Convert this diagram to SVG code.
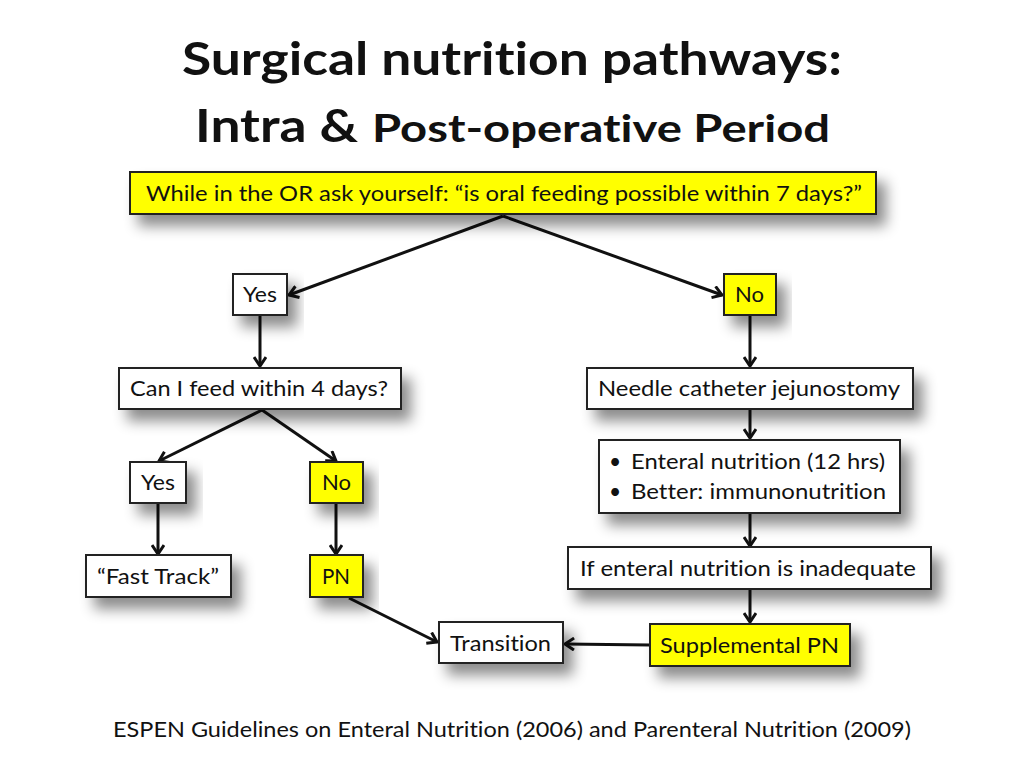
<svg xmlns="http://www.w3.org/2000/svg" width="1024" height="768" viewBox="0 0 1024 768">
<style>
text{font-family:Lato,"Open Sans","Liberation Sans",sans-serif;fill:#111;font-variant-ligatures:none}
.t{font-weight:bold;font-size:45px}
.n{font-size:21px}
.b{stroke:#222;stroke-width:2}
.w{fill:#fff}
.y{fill:#ffff00}
.c{stroke:#111;stroke-width:3;fill:none;marker-end:url(#ah)}
</style>
<defs>
<filter id="sh" x="-20%" y="-40%" width="150%" height="230%">
<feDropShadow dx="9" dy="11" stdDeviation="7" flood-color="#000" flood-opacity="0.45"/>
</filter>
<marker id="ah" markerWidth="14" markerHeight="14" refX="11" refY="7" orient="auto" markerUnits="userSpaceOnUse">
<polyline points="2,1 11,7 2,13" fill="none" stroke="#111" stroke-width="3"/>
</marker>
</defs>
<rect width="1024" height="768" fill="#fff"/>
<g id="title">
<text class="t" x="182" y="75" textLength="660" lengthAdjust="spacingAndGlyphs">Surgical nutrition pathways:</text>
<text class="t" x="195" y="142" textLength="163" lengthAdjust="spacingAndGlyphs">Intra &amp;</text>
<text x="372" y="142" font-weight="bold" font-size="38" textLength="458" lengthAdjust="spacingAndGlyphs">Post-operative Period</text>
</g>
<g id="connectors">
<line class="c" x1="503" y1="216" x2="289" y2="295"/>
<line class="c" x1="503" y1="216" x2="722" y2="295"/>
<line class="c" x1="260" y1="316" x2="260" y2="366"/>
<line class="c" x1="750" y1="316" x2="750" y2="366"/>
<line class="c" x1="262" y1="410" x2="159" y2="461"/>
<line class="c" x1="262" y1="410" x2="336" y2="461"/>
<line class="c" x1="158" y1="504" x2="158" y2="554"/>
<line class="c" x1="336" y1="504" x2="336" y2="554"/>
<line class="c" x1="349" y1="598" x2="437" y2="642"/>
<line class="c" x1="750" y1="410" x2="750" y2="438"/>
<line class="c" x1="750" y1="514" x2="750" y2="546"/>
<line class="c" x1="750" y1="590" x2="750" y2="622"/>
<line class="c" x1="650" y1="645" x2="565" y2="644"/>
</g>
<g id="n-top">
<rect class="b y" x="130" y="172" width="746" height="42" filter="url(#sh)"/>
<text class="n" x="146" y="201" textLength="716" lengthAdjust="spacingAndGlyphs">While in the OR ask yourself: “is oral feeding possible within 7 days?”</text>
</g>
<g id="n-yes1">
<rect class="b w" x="233" y="274" width="54" height="41" filter="url(#sh)"/>
<text class="n" x="243" y="302" textLength="34" lengthAdjust="spacingAndGlyphs">Yes</text>
</g>
<g id="n-no1">
<rect class="b y" x="724" y="274" width="52" height="41" filter="url(#sh)"/>
<text class="n" x="735" y="302" textLength="29" lengthAdjust="spacingAndGlyphs">No</text>
</g>
<g id="n-can">
<rect class="b w" x="119" y="368" width="282" height="41" filter="url(#sh)"/>
<text class="n" x="130" y="396" textLength="258" lengthAdjust="spacingAndGlyphs">Can I feed within 4 days?</text>
</g>
<g id="n-needle">
<rect class="b w" x="587" y="368" width="326" height="41" filter="url(#sh)"/>
<text class="n" x="598" y="396" textLength="302" lengthAdjust="spacingAndGlyphs">Needle catheter jejunostomy</text>
</g>
<g id="n-yes2">
<rect class="b w" x="130" y="462" width="56" height="41" filter="url(#sh)"/>
<text class="n" x="141" y="490" textLength="34" lengthAdjust="spacingAndGlyphs">Yes</text>
</g>
<g id="n-no2">
<rect class="b y" x="310" y="462" width="53" height="41" filter="url(#sh)"/>
<text class="n" x="322" y="490" textLength="29" lengthAdjust="spacingAndGlyphs">No</text>
</g>
<g id="n-enteral">
<rect class="b w" x="599" y="440" width="301" height="73" filter="url(#sh)"/>
<text class="n" x="609" y="469">•</text>
<text class="n" x="631" y="469" textLength="254" lengthAdjust="spacingAndGlyphs">Enteral nutrition (12 hrs)</text>
<text class="n" x="609" y="499">•</text>
<text class="n" x="631" y="499" textLength="255" lengthAdjust="spacingAndGlyphs">Better: immunonutrition</text>
</g>
<g id="n-fast">
<rect class="b w" x="86" y="555" width="145" height="42" filter="url(#sh)"/>
<text class="n" x="97" y="584" textLength="122" lengthAdjust="spacingAndGlyphs">“Fast Track”</text>
</g>
<g id="n-pn">
<rect class="b y" x="310" y="555" width="53" height="42" filter="url(#sh)"/>
<text class="n" x="322" y="584" textLength="28" lengthAdjust="spacingAndGlyphs">PN</text>
</g>
<g id="n-if">
<rect class="b w" x="568" y="547" width="363" height="42" filter="url(#sh)"/>
<text class="n" x="580" y="576" textLength="336" lengthAdjust="spacingAndGlyphs">If enteral nutrition is inadequate</text>
</g>
<g id="n-transition">
<rect class="b w" x="439" y="622" width="124" height="41" filter="url(#sh)"/>
<text class="n" x="450" y="651" textLength="101" lengthAdjust="spacingAndGlyphs">Transition</text>
</g>
<g id="n-supp">
<rect class="b y" x="650" y="624" width="200" height="42" filter="url(#sh)"/>
<text class="n" x="660" y="653" textLength="179" lengthAdjust="spacingAndGlyphs">Supplemental PN</text>
</g>
<g id="footer">
<text class="n" x="113" y="737" textLength="798" lengthAdjust="spacingAndGlyphs">ESPEN Guidelines on Enteral Nutrition (2006) and Parenteral Nutrition (2009)</text>
</g>
</svg>
